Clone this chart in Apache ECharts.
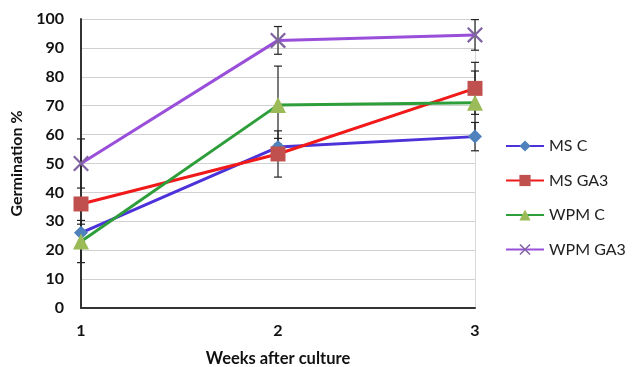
<!DOCTYPE html>
<html><head><meta charset="utf-8">
<script src="https://cdn.jsdelivr.net/npm/echarts@6/dist/echarts.min.js"></script>
<style>html,body{margin:0;padding:0;background:#fff}#c{width:633px;height:367px}</style>
</head><body><div id="c"></div>
<script>
const weeks = ['1', '2', '3'];
const seriesNames = ['MS C', 'MS GA3', 'WPM C', 'WPM GA3'];
const msC = [26, 55.7, 59.3];
const msGA3 = [36, 53.3, 76];
const wpmC = [23, 70.2, 71];
const wpmGA3 = [50, 92.6, 94.5];
const msCErr = [3, 3, 4.9];
const msGA3Err = [1.5, 8, 9];
const wpmCErr = [7.3, 13.5, 11];
const wpmGA3Err = [8.5, 4.8, 5.3];
const yTicks = [0, 100, 10];

const values = [msC, msGA3, wpmC, wpmGA3];
const errs = [msCErr, msGA3Err, wpmCErr, wpmGA3Err];
const lineColors = ['#4B32D9', '#F01A1A', '#2E9E3A', '#9A4FDB'];
const markColors = ['#4F81BD', '#C0504D', '#9BBB59', '#8064A2'];
const symbols = ['diamond', 'rect', 'triangle', 'path://M0,1L1,0L10,9L9,10ZM9,0L10,1L1,10L0,9Z'];
const symSizes = [14, 15, 16, 16];
const font = 'Lato, "Open Sans", sans-serif';

const errData = [];
values.forEach((v, s) => v.forEach((y, i) => errData.push([i, y - errs[s][i], y + errs[s][i]])));

const chart = echarts.init(document.getElementById('c'), null, {renderer: 'canvas'});
const series = seriesNames.map((n, s) => ({
  name: n, type: 'line', data: values[s], z: 3,
  symbol: symbols[s], symbolSize: symSizes[s],
  lineStyle: {color: lineColors[s], width: 3},
  itemStyle: {color: markColors[s]},
  showAllSymbol: true
}));
series.push({
  type: 'custom', z: 2, data: errData, silent: true,
  renderItem(params, api) {
    const lo = api.coord([api.value(0), api.value(1)]);
    const hi = api.coord([api.value(0), api.value(2)]);
    const w = 4;
    const st = {stroke: '#222', lineWidth: 1.2};
    return {type: 'group', children: [
      {type: 'line', shape: {x1: lo[0], y1: lo[1], x2: hi[0], y2: hi[1]}, style: st},
      {type: 'line', shape: {x1: lo[0] - w, y1: lo[1], x2: lo[0] + w, y2: lo[1]}, style: st},
      {type: 'line', shape: {x1: hi[0] - w, y1: hi[1], x2: hi[0] + w, y2: hi[1]}, style: st}
    ]};
  }
});

chart.setOption({
  animation: false,
  backgroundColor: '#fff',
  grid: {left: 81, right: 158, top: 19, bottom: 59, outerBoundsMode: 'none', containLabel: false},
  legend: {
    orient: 'vertical', left: 505, top: 138, itemGap: 18.5, padding: 0,
    itemWidth: 38, itemHeight: 14,
    data: seriesNames,
    textStyle: {fontFamily: font, fontSize: 16, color: '#222'}
  },
  xAxis: {
    type: 'category', data: weeks, boundaryGap: false,
    name: 'Weeks after culture', nameLocation: 'middle', nameGap: 42,
    nameTextStyle: {fontFamily: font, fontSize: 16.5, fontWeight: 'bold', color: '#111'},
    axisLine: {lineStyle: {color: '#333', width: 2}},
    axisTick: {show: false},
    axisLabel: {margin: 15, fontFamily: font, fontSize: 16, fontWeight: 'bold', color: '#111'},
    splitLine: {show: true, lineStyle: {color: '#d9d9d9'}, interval: (i) => i === 2}
  },
  yAxis: {
    type: 'value', min: yTicks[0], max: yTicks[1], interval: yTicks[2],
    name: 'Germination %', nameLocation: 'middle', nameGap: 50,
    nameTextStyle: {fontFamily: font, fontSize: 16, fontWeight: 'bold', color: '#111'},
    axisLine: {show: true, lineStyle: {color: '#333', width: 2}},
    axisTick: {show: false},
    axisLabel: {margin: 17, fontFamily: font, fontSize: 16, fontWeight: 'bold', color: '#111'},
    splitLine: {lineStyle: {color: '#d0d0d0'}}
  },
  series
});
</script></body></html>
